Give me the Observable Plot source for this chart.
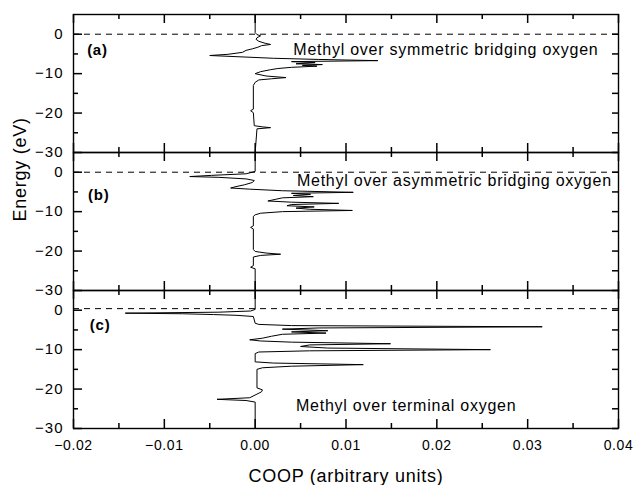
<!DOCTYPE html>
<html>
<head>
<meta charset="utf-8">
<script src="https://cdn.jsdelivr.net/npm/d3@7"></script>
<script src="https://cdn.jsdelivr.net/npm/@observablehq/plot@0.6"></script>
<style>
  html, body { margin: 0; padding: 0; background: #fff; }
  #chart svg { display: block; }
  g[aria-label="y-axis tick label"] text { letter-spacing: 1px; }
  g[aria-label="x-axis tick label"] text { letter-spacing: 0.6px; }
  g[aria-label="text"] text { letter-spacing: 0.75px; }
</style>
</head>
<body>
<div id="chart"></div>
<script>
// ---- Data ----
const panels = ["a", "b", "c"];
const panelLetters = ["(a)", "(b)", "(c)"];
const panelTitles = [
  "Methyl over symmetric bridging oxygen",
  "Methyl over asymmetric bridging oxygen",
  "Methyl over terminal oxygen"
];

// Panel (a): energy (eV) and COOP
const energyA = [5, 0.4, -0.1, -0.4, -0.9, -1.3, -1.8, -2.3, -2.6, -2.9, -3.3, -3.7, -4.1, -4.6, -5.1, -5.4, -5.7, -6.1, -6.4, -6.7, -6.95, -7.2, -7.5, -7.7, -7.9, -8.1, -8.4, -8.7, -9.0, -9.5, -10.0, -10.6, -11.0, -11.3, -11.6, -12.2, -13.0, -19.0, -19.4, -19.9, -23.2, -23.5, -23.7, -24.0, -30];
const coopA   = [0, 0, 0.0002, 0.0006, 0.0002, 0.0001, 0.0004, 0.0011, 0.0017, 0.0007, 0.0003, -0.0003, -0.001, -0.0014, -0.003, -0.005, -0.002, 0.002, 0.007, 0.0135, 0.004, 0.0066, 0.0045, 0.0074, 0.0052, 0.0068, 0.004, 0.0025, 0.0017, 0.0006, 0.0, 0.0012, 0.0034, 0.0018, 0.0004, 0.0, -0.0002, -0.0002, -0.0005, -0.0002, -0.0001, 0.0008, 0.0017, 0.0002, 0];

// Panel (b)
const energyB = [5, 0.2, -0.4, -0.8, -1.1, -1.3, -1.7, -2.1, -2.6, -3.2, -3.7, -4.0, -4.3, -4.7, -5.1, -5.35, -5.6, -5.9, -6.2, -6.5, -6.9, -7.3, -7.6, -7.9, -8.2, -8.5, -8.8, -9.1, -9.4, -9.7, -10.0, -10.4, -10.8, -11.2, -13.6, -14.0, -14.4, -19.6, -20.1, -20.5, -20.8, -21.1, -21.5, -23.7, -24.1, -24.5, -30];
const coopB   = [0, 0, -0.001, -0.0048, -0.0072, -0.004, -0.001, -0.0001, -0.0003, -0.0012, -0.0022, -0.0027, -0.0006, 0.003, 0.0108, 0.004, 0.0061, 0.0042, 0.0064, 0.003, 0.0022, 0.0014, 0.004, 0.0092, 0.004, 0.0035, 0.0065, 0.0045, 0.006, 0.0107, 0.003, 0.0006, 0.0, -0.0002, -0.0002, -0.0005, -0.0002, -0.0002, 0.0, 0.0012, 0.0028, 0.0006, -0.0002, -0.0002, -0.0005, 0.0, 0];

// Panel (c)
const energyC = [5, 0.2, -0.2, -0.5, -0.75, -0.9, -1.1, -1.3, -1.6, -3.3, -3.6, -3.9, -4.2, -4.5, -4.8, -5.2, -5.5, -5.8, -6.1, -6.6, -7.1, -7.5, -7.8, -8.1, -8.5, -8.8, -9.2, -9.6, -10.0, -10.3, -10.6, -11.0, -13.1, -13.4, -13.8, -14.2, -14.6, -15.0, -19.7, -20.2, -20.7, -21.4, -22.2, -22.6, -22.9, -23.3, -30];
const coopC   = [0, 0, -0.0005, -0.004, -0.0143, -0.008, -0.0046, -0.002, -0.0002, 0.0, 0.0004, 0.004, 0.0316, 0.007, 0.003, 0.008, 0.004, 0.0078, 0.003, 0.0018, 0.0008, -0.0006, 0.0006, 0.004, 0.0149, 0.006, 0.005, 0.008, 0.0259, 0.006, 0.0004, 0.0, 0.0, 0.002, 0.0119, 0.004, 0.0008, 0.0002, 0.0002, 0.0008, 0.0007, 0.0001, -0.0006, -0.0042, -0.001, 0.0, 0];

const fermiLevels = [0, 0, 0.4];

const xTickLabels = [-0.02, -0.01, 0.00, 0.01, 0.02, 0.03, 0.04];
const xMinorTicks = [-0.015, -0.005, 0.005, 0.015, 0.025, 0.035];
const yTickLabels = [0, -10, -20, -30];
const yMinorTicks = [-5, -15, -25];

const xTitle = "COOP (arbitrary units)";
const yTitle = "Energy (eV)";

// ---- Tables built from the arrays ----
const xDomain = [-0.02, 0.04];
const yDomain = [-30, 5];
const energies = [energyA, energyB, energyC];
const coops = [coopA, coopB, coopC];
const curveRows = [];
panels.forEach((p, i) => energies[i].forEach((e, j) => curveRows.push({panel: p, E: e, coop: coops[i][j]})));
const fermiRows = panels.map((p, i) => ({panel: p, E: fermiLevels[i]}));

// annotation anchors in data units (x = COOP, y = energy)
const letterAnchor = [[-0.0185, -4.1], [-0.0184, -5.9], [-0.0182, -3.9]];
const titleAnchor = [[0.0042, -3.9], [0.0046, -2.3], [0.0045, -24.2]];
const letterRows = panels.map((p, i) => ({panel: p, text: panelLetters[i], x: letterAnchor[i][0], y: letterAnchor[i][1]}));
const titleRows = panels.map((p, i) => ({panel: p, text: panelTitles[i], x: titleAnchor[i][0], y: titleAnchor[i][1]}));

const font = "'Liberation Sans', Arial, Helvetica, sans-serif";

// layout
const W = 637, H = 485, mL = 73, mR = 19, mT = 14, mB = 57;
const panelW = W - mL - mR;                    // 545 px
const panelH = (H - mT - mB) / panels.length;  // 138 px
// tick lengths expressed in data units of each scale
const xPerPx = (xDomain[1] - xDomain[0]) / panelW;
const yPerPx = (yDomain[1] - yDomain[0]) / panelH;

// inward tick segments for every panel (left, right, top, bottom)
const yTickRows = [], xTickRows = [];
panels.forEach(p => {
  yTickLabels.forEach(v => {
    yTickRows.push({panel: p, y: v, x1: xDomain[0], x2: xDomain[0] + 9 * xPerPx});
    yTickRows.push({panel: p, y: v, x1: xDomain[1] - 6 * xPerPx, x2: xDomain[1]});
  });
  yMinorTicks.forEach(v => {
    yTickRows.push({panel: p, y: v, x1: xDomain[0], x2: xDomain[0] + 5 * xPerPx});
    yTickRows.push({panel: p, y: v, x1: xDomain[1] - 6 * xPerPx, x2: xDomain[1]});
  });
  xTickLabels.forEach(v => {
    xTickRows.push({panel: p, x: v, y1: yDomain[1], y2: yDomain[1] - 9 * yPerPx});
    xTickRows.push({panel: p, x: v, y1: yDomain[0], y2: yDomain[0] + 9 * yPerPx});
  });
  xMinorTicks.forEach(v => {
    xTickRows.push({panel: p, x: v, y1: yDomain[1], y2: yDomain[1] - 5 * yPerPx});
    xTickRows.push({panel: p, x: v, y1: yDomain[0], y2: yDomain[0] + 5 * yPerPx});
  });
});

const chart = Plot.plot({
  width: W,
  height: H,
  marginLeft: mL,
  marginRight: mR,
  marginTop: mT,
  marginBottom: mB,
  style: {fontFamily: font, fontSize: "14px", color: "black", background: "white"},
  x: {domain: xDomain, label: null},
  y: {domain: yDomain, label: null},
  fy: {domain: panels, padding: 0, axis: null, label: null},
  marks: [
    Plot.ruleY(fermiRows, {y: "E", fy: "panel", stroke: "black", strokeWidth: 1, strokeDasharray: "6,5"}),
    Plot.line(curveRows, {x: "coop", y: "E", fy: "panel", stroke: "black", strokeWidth: 1}),
    Plot.frame({stroke: "black", strokeWidth: 1.4}),
    // inward ticks
    Plot.ruleY(yTickRows, {y: "y", x1: "x1", x2: "x2", fy: "panel", stroke: "black", strokeWidth: 1.5}),
    Plot.ruleX(xTickRows, {x: "x", y1: "y1", y2: "y2", fy: "panel", stroke: "black", strokeWidth: 1.5}),
    // tick labels
    Plot.axisY(yTickLabels, {anchor: "left", tickSize: 0, tickPadding: 10, tickFormat: d3.format("d"), fontSize: 15, label: null}),
    Plot.axisX(xTickLabels, {anchor: "bottom", tickSize: 0, tickPadding: 12, tickFormat: d3.format(".2f"), fontSize: 14, label: null}),
    // annotations
    Plot.text(letterRows, {x: "x", y: "y", fy: "panel", text: "text", textAnchor: "start", lineAnchor: "middle", fontWeight: "bold", fontSize: 15}),
    Plot.text(titleRows, {x: "x", y: "y", fy: "panel", text: "text", textAnchor: "start", lineAnchor: "middle", fontSize: 16}),
    // axis titles
    Plot.text([yTitle], {fy: ["b"], frameAnchor: "left", text: d => d, rotate: -90, dx: -53, lineAnchor: "middle", fontSize: 18}),
    Plot.text([xTitle], {fy: ["c"], frameAnchor: "bottom", text: d => d, dy: 48, lineAnchor: "middle", fontSize: 18})
  ]
});
document.getElementById("chart").appendChild(chart);
</script>
</body>
</html>
